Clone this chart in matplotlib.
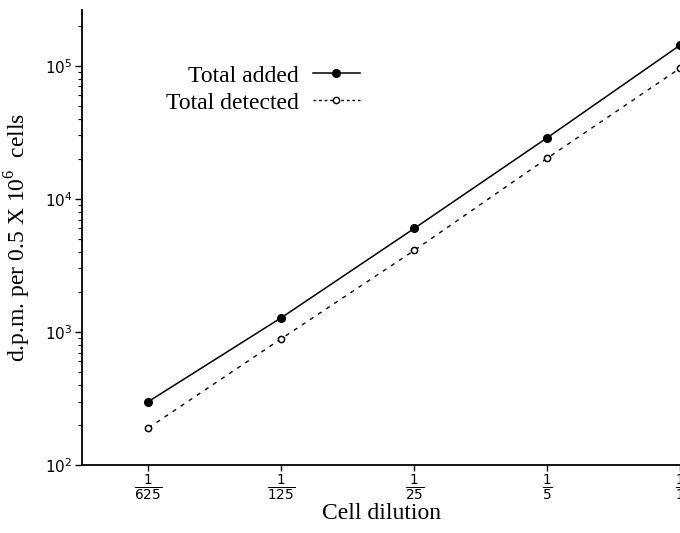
import matplotlib
matplotlib.use("Agg")
import matplotlib.pyplot as plt
from matplotlib.ticker import LogLocator, FixedLocator, NullFormatter
from matplotlib.lines import Line2D

dilutions = ["625", "125", "25", "5", "1"]
total_added = [300, 1280, 6000, 28800, 143000]
total_detected = [190, 890, 4100, 20200, 96000]
ytick_vals = [1e2, 1e3, 1e4, 1e5]
ytick_labels = [r"$\mathregular{10^2}$", r"$\mathregular{10^3}$", r"$\mathregular{10^4}$", r"$\mathregular{10^5}$"]

plt.rcParams['mathtext.fontset'] = 'dejavusans'
serif = 'Liberation Serif'

fig = plt.figure(figsize=(6.8, 5.33), dpi=100)
ax = fig.add_axes([82/680, 1-465/533, 1-82/680, (465-10)/533])

x = list(range(len(dilutions)))
ax.plot(x, total_added, color='black', lw=1.1, marker='o', ms=5.5, mfc='black', mec='black')
ax.plot(x, total_detected, color='black', lw=1.0, ls=(0, (3, 4)), marker='o', ms=4.5,
        mfc='white', mec='black', mew=1.1)

ax.set_yscale('log')
ax.set_ylim(100, 10**5.42)
ax.set_xlim(-0.5, 4.0)

ax.yaxis.set_major_locator(FixedLocator(ytick_vals))
ax.set_yticklabels(ytick_labels, fontsize=11, family='DejaVu Sans')
ax.yaxis.set_minor_locator(LogLocator(base=10, subs=range(2, 10)))
ax.yaxis.set_minor_formatter(NullFormatter())
ax.tick_params(axis='y', which='major', length=5, width=1, direction='out', pad=2)
ax.tick_params(axis='y', which='minor', length=3, width=0.8, direction='out')

ax.set_xticks(x)
ax.set_xticklabels([r"$\frac{1}{%s}$" % d for d in dilutions], fontsize=14)
ax.tick_params(axis='x', length=4, width=1, direction='out', pad=2)

for s in ['top', 'right']:
    ax.spines[s].set_visible(False)
ax.spines['left'].set_linewidth(1.3)
ax.spines['bottom'].set_linewidth(1.3)

ax.set_ylabel(r"d.p.m. per 0.5 X 10$^{\mathregular{6}}$  cells", family=serif, fontsize=17, labelpad=8)
ax.set_xlabel("Cell dilution", family=serif, fontsize=17, labelpad=0)

h1 = Line2D([], [], color='black', lw=1.1, marker='o', ms=5.5, mfc='black')
h2 = Line2D([], [], color='black', lw=1.0, ls=(0, (2, 2)), marker='o', ms=4.5, mfc='white', mew=1.0)
leg1 = ax.legend([h1], ["Total added"], loc='upper right', frameon=False,
                 markerfirst=False, prop={'family': serif, 'size': 17}, handlelength=2.0,
                 handletextpad=0.6, borderpad=0, borderaxespad=0)
leg1.set_bbox_to_anchor((360/680, 1-65/533), transform=fig.transFigure)
ax.add_artist(leg1)
leg2 = ax.legend([h2], ["Total detected"], loc='upper right', frameon=False,
                 markerfirst=False, prop={'family': serif, 'size': 17}, handlelength=2.0,
                 handletextpad=0.6, borderpad=0, borderaxespad=0)
leg2.set_bbox_to_anchor((360/680, 1-92/533), transform=fig.transFigure)

fig.savefig("out.png", dpi=100)
